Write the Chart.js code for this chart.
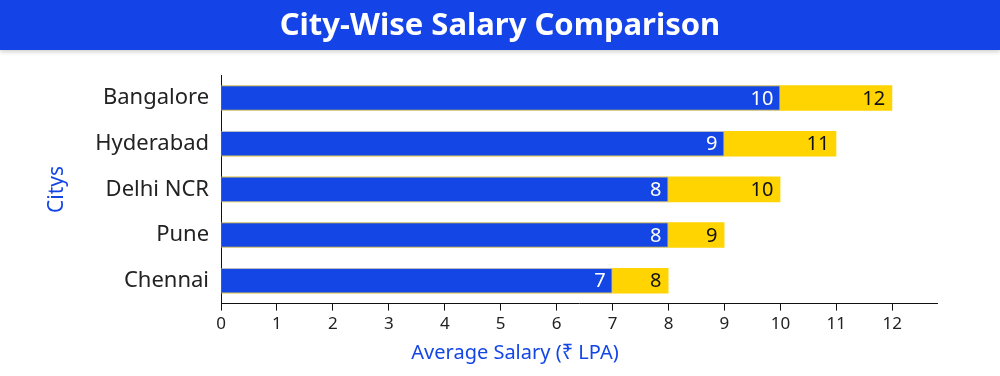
<!DOCTYPE html>
<html>
<head>
<meta charset="utf-8">
<script src="https://cdn.jsdelivr.net/npm/chart.js@4"></script>
<style>
  html, body { margin: 0; padding: 0; background: #fff; }
  body { width: 1000px; height: 376px; overflow: hidden; font-family: "Noto Sans", sans-serif; }
  #banner {
    height: 50px; background: #1443e8; color: #fff;
    font-size: 31px; font-weight: bold; text-align: center; line-height: 46px;
    box-shadow: 0 2px 4px rgba(0,0,0,0.18);
    position: relative; z-index: 1;
  }
  #chartContainer { position: relative; width: 1000px; height: 326px; }
</style>
</head>
<body>
<div id="banner">City-Wise Salary Comparison</div>
<div id="chartContainer"><canvas id="salaryChart"></canvas></div>
<script>
const cities = ['Bangalore', 'Hyderabad', 'Delhi NCR', 'Pune', 'Chennai'];
const minSalary = [10, 9, 8, 8, 7];
const maxSalary = [12, 11, 10, 9, 8];
const xTitle = 'Average Salary (₹ LPA)';
const yTitle = 'Citys';

const blue = '#1446e6';
const yellow = '#ffd400';

// valeurs écrites au bout de chaque barre
const barLabels = {
  id: 'barLabels',
  afterDatasetsDraw(chart) {
    const ctx = chart.ctx;
    ctx.save();
    ctx.font = '20px "Noto Sans"';
    ctx.textAlign = 'right';
    ctx.textBaseline = 'middle';
    chart.data.datasets.forEach((ds, i) => {
      chart.getDatasetMeta(i).data.forEach((bar, j) => {
        ctx.fillStyle = ds.labelColor;
        ctx.fillText(ds.data[j], bar.x - 7, bar.y + 1);
      });
    });
    ctx.restore();
  }
};

// titre de l'axe x, un peu décalé comme sur l'original
const xAxisTitle = {
  id: 'xAxisTitle',
  afterDraw(chart) {
    const ctx = chart.ctx;
    ctx.save();
    ctx.font = '20px "Noto Sans"';
    ctx.fillStyle = blue;
    ctx.textAlign = 'center';
    ctx.textBaseline = 'middle';
    ctx.fillText(xTitle, 515, chart.scales.x.bottom + 16);
    ctx.restore();
  }
};

new Chart(document.getElementById('salaryChart'), {
  type: 'bar',
  data: {
    labels: cities,
    datasets: [
      {
        label: 'Min',
        data: minSalary,
        backgroundColor: blue,
        borderColor: '#b8bcc8',
        borderWidth: 1,
        labelColor: '#fff',
        categoryPercentage: 1,
        barPercentage: 0.56
      },
      {
        label: 'Max',
        data: maxSalary,
        backgroundColor: yellow,
        borderWidth: 0,
        labelColor: '#111',
        categoryPercentage: 1,
        barPercentage: 0.56
      }
    ]
  },
  options: {
    indexAxis: 'y',
    responsive: true,
    maintainAspectRatio: false,
    animation: false,
    layout: { padding: { top: 19, right: 63, bottom: 39, left: 44 } },
    plugins: {
      legend: { display: false },
      tooltip: { enabled: false }
    },
    scales: {
      x: {
        min: 0,
        max: 12.8,
        stacked: false,
        ticks: {
          stepSize: 1,
          includeBounds: false,
          color: '#222',
          font: { size: 17, family: 'Noto Sans' },
          padding: 3
        },
        grid: { drawOnChartArea: false, tickLength: 7, color: '#111' },
        border: { color: '#111', width: 1 }
      },
      y: {
        stacked: true,
        ticks: {
          color: '#222',
          font: { size: 22, family: 'Noto Sans' },
          padding: 12
        },
        grid: { display: false, drawTicks: false },
        border: { color: '#111', width: 1 },
        title: {
          display: true,
          text: yTitle,
          color: blue,
          font: { size: 21, family: 'Noto Sans' },
          padding: { top: 0, bottom: 14 }
        }
      }
    }
  },
  plugins: [barLabels, xAxisTitle]
});
</script>
</body>
</html>
